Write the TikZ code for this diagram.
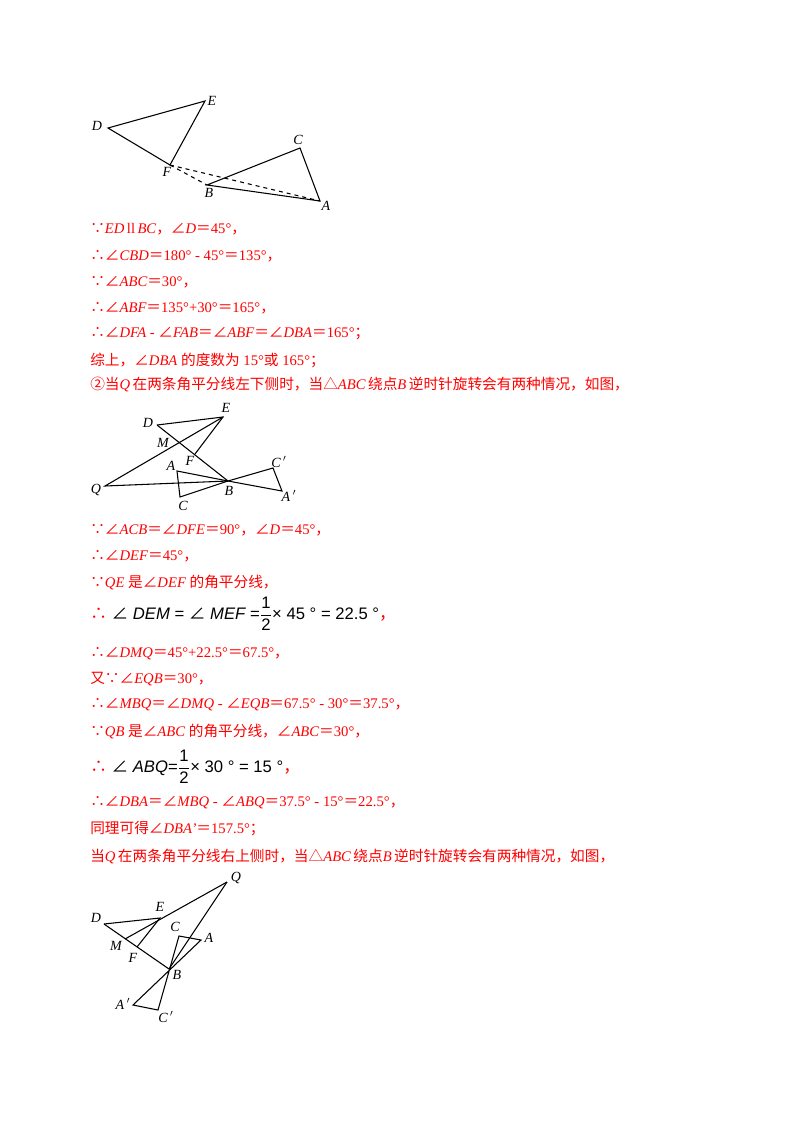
\documentclass[tikz,border=0pt]{standalone}
\usepackage{amsmath}
\usepackage{fontspec}
\setmainfont{Liberation Serif}
\newfontfamily\cjk{Noto Sans CJK SC}
\newfontfamily\arl{Liberation Sans}
\newcommand\Z[1]{{\cjk #1}}
\newcommand\I[1]{{\itshape #1}}
\begin{document}
\begin{tikzpicture}[x=0.75pt,y=-0.75pt,
  txt/.style={anchor=west,inner sep=0pt,text=red,font=\fontsize{11pt}{13pt}\selectfont},
  frm/.style={anchor=west,inner sep=0pt,font=\arl\fontsize{12.5pt}{14pt}\selectfont},
  lab/.style={inner sep=0pt,font=\itshape\fontsize{10.5pt}{12pt}\selectfont},
  ln/.style={line width=0.8pt}]
\useasboundingbox (0,0) rectangle (800,1132);
% figure 1
\coordinate (D) at (108,128); \coordinate (E) at (205,101); \coordinate (F) at (170,165);
\coordinate (C) at (300,148); \coordinate (B) at (207,185); \coordinate (A) at (320,201);
\draw[ln] (D)--(E)--(F)--cycle; \draw[ln] (B)--(C)--(A)--cycle;
\draw[ln,dashed] (F)--(A); \draw[ln,dashed] (F)--(B);
\node[lab] (lD) at (97,126) {D}; \node[lab] (lE) at (212,101) {E}; \node[lab] (lF) at (167,172) {F};
\node[lab] (lC) at (298,140) {C}; \node[lab] (lB) at (209,193) {B}; \node[lab] (lA) at (326,206) {A};
% text block 1
\node[txt] (t1) at (90,229) {\Z{∵}\I{ED}\,ll\,\I{BC}\Z{，∠}\I{D}\Z{＝}45°\Z{，}};
\node[txt] (t2) at (90,256) {\Z{∴∠}\I{CBD}\Z{＝}180° - 45°\Z{＝}135°\Z{，}};
\node[txt] (t3) at (90,282) {\Z{∵∠}\I{ABC}\Z{＝}30°\Z{，}};
\node[txt] (t4) at (90,308) {\Z{∴∠}\I{ABF}\Z{＝}135°+30°\Z{＝}165°\Z{，}};
\node[txt] (t5) at (90,334) {\Z{∴∠}\I{DFA} - \Z{∠}\I{FAB}\Z{＝∠}\I{ABF}\Z{＝∠}\I{DBA}\Z{＝}165°\Z{；}};
\node[txt] (t6) at (90,360) {\Z{综上，∠}\I{DBA} \Z{的度数为} 15°\Z{或} 165°\Z{；}};
\node[txt] (t7) at (90,384) {\Z{②当}\I{Q}\,\Z{在两条角平分线左下侧时，当△}\I{ABC}\,\Z{绕点}\I{B}\,\Z{逆时针旋转会有两种情况，如图，}};
% figure 2
\coordinate (D2) at (157,425); \coordinate (E2) at (223,417); \coordinate (F2) at (195,454);
\coordinate (A2) at (177,471); \coordinate (B2) at (228,481); \coordinate (C2) at (180,497);
\coordinate (Q2) at (105,486); \coordinate (Cp2) at (273,468); \coordinate (Ap2) at (282,491);
\draw[ln] (D2)--(E2)--(F2); \draw[ln] (D2)--(B2); \draw[ln] (E2)--(Q2)--(B2);
\draw[ln] (A2)--(B2)--(C2)--cycle; \draw[ln] (B2)--(Cp2)--(Ap2)--cycle;
\node[lab] (lD2) at (148,423) {D}; \node[lab] (lE2) at (226,408) {E}; \node[lab] (lM2) at (163,443) {M};
\node[lab] (lF2) at (190,461) {F}; \node[lab] (lA2) at (171,466) {A}; \node[lab] (lC2) at (183,506) {C};
\node[lab] (lB2) at (229,491) {B}; \node[lab] (lQ2) at (96,490) {Q};
\node[lab] (lCp2) at (279,462) {C\,$'$}; \node[lab] (lAp2) at (289,496) {A\,$'$};
% text block 2
\node[txt] (t8) at (90,530) {\Z{∵∠}\I{ACB}\Z{＝∠}\I{DFE}\Z{＝}90°\Z{，∠}\I{D}\Z{＝}45°\Z{，}};
\node[txt] (t9) at (90,556) {\Z{∴∠}\I{DEF}\Z{＝}45°\Z{，}};
\node[txt] (t10) at (90,582) {\Z{∵}\I{QE} \Z{是∠}\I{DEF} \Z{的角平分线，}};
\node[frm] (f1) at (90,614) {\textcolor{red}{\Z{∴}} \Z{∠} \I{DEM} = \Z{∠} \I{MEF} =$\dfrac{\text{\arl 1}}{\text{\arl 2}}$× 45 ° = 22.5 °\textcolor{red}{\Z{，}}};
\node[txt] (t11) at (90,654) {\Z{∴∠}\I{DMQ}\Z{＝}45°+22.5°\Z{＝}67.5°\Z{，}};
\node[txt] (t12) at (90,679) {\Z{又∵∠}\I{EQB}\Z{＝}30°\Z{，}};
\node[txt] (t13) at (90,705) {\Z{∴∠}\I{MBQ}\Z{＝∠}\I{DMQ} - \Z{∠}\I{EQB}\Z{＝}67.5° - 30°\Z{＝}37.5°\Z{，}};
\node[txt] (t14) at (90,731) {\Z{∵}\I{QB} \Z{是∠}\I{ABC} \Z{的角平分线，∠}\I{ABC}\Z{＝}30°\Z{，}};
\node[frm] (f2) at (90,767) {\textcolor{red}{\Z{∴}} \Z{∠} \I{ABQ}=$\dfrac{\text{\arl 1}}{\text{\arl 2}}$× 30 ° = 15 °\textcolor{red}{\Z{，}}};
\node[txt] (t15) at (90,803) {\Z{∴∠}\I{DBA}\Z{＝∠}\I{MBQ} - \Z{∠}\I{ABQ}\Z{＝}37.5° - 15°\Z{＝}22.5°\Z{，}};
\node[txt] (t16) at (90,829) {\Z{同理可得∠}\I{DBA'}\Z{＝}157.5°\Z{；}};
\node[txt] (t17) at (90,856) {\Z{当}\I{Q}\,\Z{在两条角平分线右上侧时，当△}\I{ABC}\,\Z{绕点}\I{B}\,\Z{逆时针旋转会有两种情况，如图，}};
% figure 3
\coordinate (Q3) at (227,882); \coordinate (E3) at (160,918); \coordinate (D3) at (104,924);
\coordinate (M3) at (125,939); \coordinate (F3) at (137,947); \coordinate (B3) at (169,969);
\coordinate (C3) at (179,936); \coordinate (A3) at (201,940); \coordinate (Ap3) at (133,1005);
\coordinate (Cp3) at (158,1010);
\draw[ln] (Q3)--(M3); \draw[ln] (D3)--(E3)--(F3); \draw[ln] (D3)--(B3); \draw[ln] (Q3)--(B3);
\draw[ln] (C3)--(Cp3)--(Ap3)--(A3)--cycle;
\node[lab] (lQ3) at (236,878) {Q}; \node[lab] (lE3) at (160,907) {E}; \node[lab] (lD3) at (96,918) {D};
\node[lab] (lC3) at (175,927) {C}; \node[lab] (lA3) at (209,938) {A}; \node[lab] (lM3) at (116,946) {M};
\node[lab] (lF3) at (133,958) {F}; \node[lab] (lB3) at (177,975) {B};
\node[lab] (lAp3) at (123,1004) {A\,$'$}; \node[lab] (lCp3) at (166,1017) {C\,$'$};
\end{tikzpicture}
\end{document}
